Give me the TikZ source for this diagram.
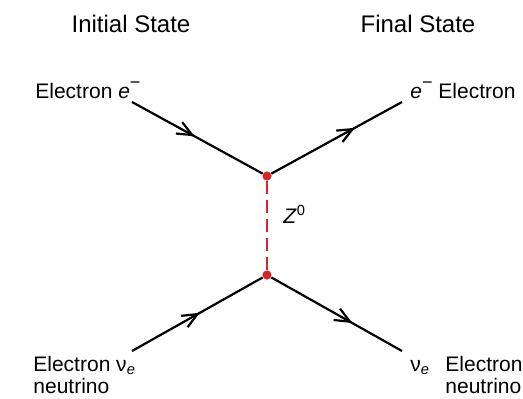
\documentclass[tikz,border=0pt]{standalone}
\usepackage{fontspec}
\setmainfont{Liberation Sans}
\usetikzlibrary{arrows.meta, decorations.markings, positioning}
\definecolor{zred}{RGB}{214,39,40}
\newcommand{\eminus}{\textit{e}\raisebox{4.8pt}{\fontsize{9}{9}\selectfont −}}

\begin{document}
\begin{tikzpicture}[x=0.5pt, y=0.5pt,
    title/.style={font=\fontsize{12}{14}\selectfont, inner sep=0pt, anchor=base},
    lbl/.style={font=\fontsize{10.5}{11}\selectfont, inner sep=0pt, anchor=base west, align=left},
    vertex/.style={circle, fill=zred, inner sep=0pt, minimum size=4.6pt},
    fermion/.style={line width=1.1pt, postaction={decorate},
        decoration={markings, mark=at position #1 with {\arrow{Straight Barb[length=7.5pt, width=6.5pt, line width=1.1pt]}}}},
    boson/.style={zred, line width=1pt, dash pattern=on 6.5pt off 3pt}]
    \useasboundingbox (0,0) rectangle (523,398);
    % titles
    \node [title] (init) at (131,366) {Initial State};
    \node [title] (fin) at (418,366) {Final State};
    % vertices
    \node [vertex] (top) at (267,222) {};
    \node [vertex, below of=top, node distance=49.5pt] (bot) {};
    % outer ends of the fermion lines
    \coordinate (ein) at (132,296);
    \coordinate (eout) at (402,296);
    \coordinate (nuin) at (132,47);
    \coordinate (nuout) at (402,47);
    % labels (base of a two-line label = its last line)
    \node [lbl] (lein) at (35,300) {Electron \eminus};
    \node [lbl] (leout) at (410,300) {\eminus\ Electron};
    \node [lbl] (lnuin) at (33,5) {Electron ν\textsubscript{\textit{e}}\\neutrino};
    \node [lbl] (lnuout) at (410,27) {ν\textsubscript{\textit{e}}};
    \node [lbl] (lnuname) at (445,5) {Electron\\neutrino};
    \node [lbl] (zlbl) at (283,175) {\textit{Z}\textsuperscript{0}};
    % lines
    \draw [boson] (top) -- (bot);
    \draw [fermion=0.48] (ein) -- (top);
    \draw [fermion=0.64] (top) -- (eout);
    \draw [fermion=0.52] (nuin) -- (bot);
    \draw [fermion=0.62] (bot) -- (nuout);
\end{tikzpicture}
\end{document}
